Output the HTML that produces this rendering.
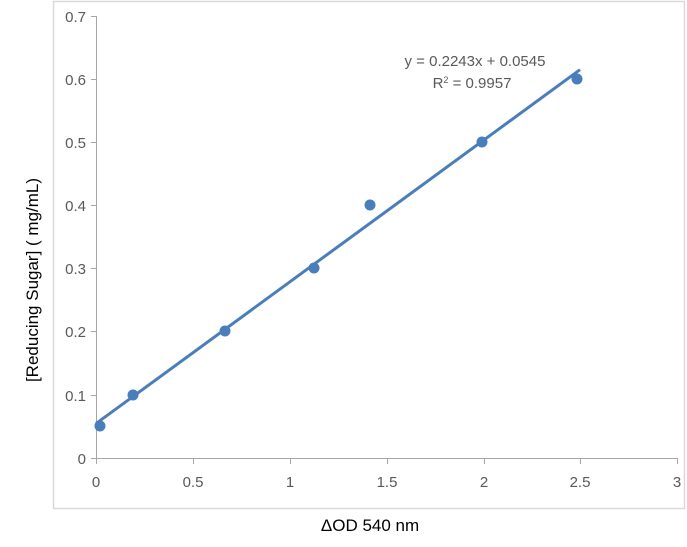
<!DOCTYPE html>
<html><head><style>body{margin:0;background:#fff}</style></head><body>
<svg width="687" height="542" xmlns="http://www.w3.org/2000/svg" font-family="Liberation Sans, sans-serif">
<rect x="53.5" y="1.5" width="631" height="507" fill="#fff" stroke="#d9d9d9" stroke-width="1.5"/>
<g stroke="#a6a6a6" stroke-width="1">
<line x1="96.5" y1="16" x2="96.5" y2="458"/>
<line x1="96" y1="458.5" x2="677" y2="458.5"/>
<line x1="91" y1="16.5" x2="96" y2="16.5"/><line x1="91" y1="79.5" x2="96" y2="79.5"/><line x1="91" y1="142.5" x2="96" y2="142.5"/><line x1="91" y1="205.5" x2="96" y2="205.5"/><line x1="91" y1="268.5" x2="96" y2="268.5"/><line x1="91" y1="331.5" x2="96" y2="331.5"/><line x1="91" y1="395.5" x2="96" y2="395.5"/><line x1="91" y1="458.5" x2="96" y2="458.5"/>
<line x1="96.5" y1="458" x2="96.5" y2="464"/><line x1="193.5" y1="458" x2="193.5" y2="464"/><line x1="290.5" y1="458" x2="290.5" y2="464"/><line x1="387.5" y1="458" x2="387.5" y2="464"/><line x1="484.5" y1="458" x2="484.5" y2="464"/><line x1="580.5" y1="458" x2="580.5" y2="464"/><line x1="677.5" y1="458" x2="677.5" y2="464"/>
</g>
<g font-size="15" fill="#595959" text-anchor="end">
<text x="86" y="22">0.7</text><text x="86" y="85">0.6</text><text x="86" y="148">0.5</text><text x="86" y="211">0.4</text><text x="86" y="274">0.3</text><text x="86" y="337">0.2</text><text x="86" y="401">0.1</text><text x="86" y="464">0</text>
</g>
<g font-size="15" fill="#595959" text-anchor="middle">
<text x="96" y="487">0</text><text x="193" y="487">0.5</text><text x="290" y="487">1</text><text x="387" y="487">1.5</text><text x="484" y="487">2</text><text x="580" y="487">2.5</text><text x="677" y="487">3</text>
</g>
<line x1="96" y1="423.6" x2="580" y2="69.7" stroke="#4a7ebb" stroke-width="3"/>
<g fill="#4a7ebb">
<circle cx="100" cy="426" r="5.5"/><circle cx="133" cy="395" r="5.5"/><circle cx="225" cy="331" r="5.5"/><circle cx="314" cy="268" r="5.5"/><circle cx="370" cy="205" r="5.5"/><circle cx="482" cy="142" r="5.5"/><circle cx="577" cy="79" r="5.5"/>
</g>
<g font-size="15" fill="#595959" text-anchor="middle">
<text x="475" y="66">y = 0.2243x + 0.0545</text>
<text x="472" y="88">R<tspan font-size="9" dy="-5">2</tspan><tspan dy="5"> = 0.9957</tspan></text>
</g>
<text x="370" y="531" font-size="17" text-anchor="middle" fill="#000">ΔOD 540 nm</text>
<text transform="translate(38,280) rotate(-90)" font-size="17" text-anchor="middle" fill="#000">[Reducing Sugar] ( mg/mL)</text>
</svg>
</body></html>
